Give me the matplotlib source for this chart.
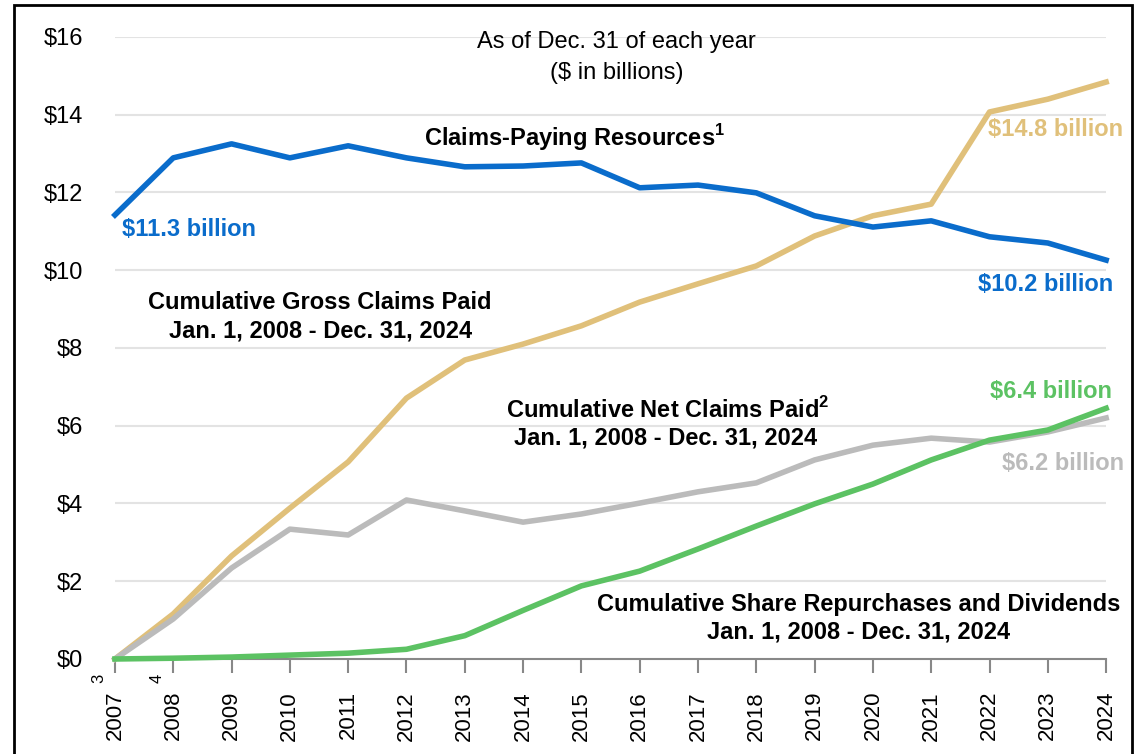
import numpy as np
import matplotlib.pyplot as plt
import matplotlib.transforms as mtransforms
from matplotlib.patches import Rectangle

plt.rcParams['font.family'] = ['Liberation Sans', 'DejaVu Sans']
plt.rcParams['mathtext.fontset'] = 'custom'
plt.rcParams['mathtext.rm'] = 'Liberation Sans'
plt.rcParams['mathtext.bf'] = 'Liberation Sans:bold'

years = np.arange(2007, 2025)
year_labels = [str(y) for y in years]
year_notes = {2007: '3', 2008: '4'}

claims_paying = [11.42, 12.89, 13.25, 12.89, 13.2, 12.89, 12.66, 12.68, 12.76, 12.12,
                 12.19, 11.99, 11.4, 11.11, 11.27, 10.86, 10.7, 10.26]
gross_claims = [0.0, 1.16, 2.65, 3.88, 5.07, 6.71, 7.69, 8.1, 8.57, 9.18,
                9.65, 10.11, 10.88, 11.4, 11.7, 14.07, 14.4, 14.84]
net_claims = [0.0, 1.03, 2.34, 3.34, 3.19, 4.09, 3.81, 3.52, 3.73, 4.01,
              4.3, 4.53, 5.12, 5.5, 5.68, 5.58, 5.84, 6.2]
repurchases = [0.0, 0.02, 0.05, 0.1, 0.15, 0.25, 0.6, 1.25, 1.88, 2.26,
               2.83, 3.42, 3.99, 4.5, 5.12, 5.63, 5.89, 6.45]

blue = '#0A6CCB'
gold = '#E0C07A'
gray = '#BBBBBB'
green = '#5CC263'

fig = plt.figure(figsize=(11.38, 7.54), dpi=100)
ax = fig.add_axes([0.101, 0.126, 0.871, 0.825])

for y in range(2, 17, 2):
    ax.axhline(y, color='#E3E3E3', lw=1.5, zorder=0)

lw = 4
ax.plot(years, gross_claims, color=gold, lw=lw, clip_on=False, zorder=3)
ax.plot(years, net_claims, color=gray, lw=lw, clip_on=False, zorder=3)
ax.plot(years, repurchases, color=green, lw=lw, clip_on=False, zorder=4)
ax.plot(years, claims_paying, color=blue, lw=lw, clip_on=False, zorder=4)

ax.set_xlim(2007, 2024)
ax.set_ylim(0, 16)
ax.set_yticks(range(0, 17, 2))
ax.set_yticklabels(['$%d' % v for v in range(0, 17, 2)], fontsize=17)
ax.set_xticks(years)
ax.set_xticklabels(year_labels, rotation=90, fontsize=16)
ax.tick_params(axis='y', length=0, pad=23)
ax.tick_params(axis='x', length=10, width=1.5, color='#888888', pad=13)
for s in ['top', 'right', 'left']:
    ax.spines[s].set_visible(False)
ax.spines['bottom'].set_color('#888888')
ax.spines['bottom'].set_linewidth(1.5)

# footnote marks on the first two year labels
trans = mtransforms.blended_transform_factory(ax.transData, ax.transAxes)
for yr, note in year_notes.items():
    ax.text(yr - 0.28, -0.031, note, transform=trans, rotation=90, ha='center', va='center', fontsize=12)

fs = 17
ax.text(2015.6, 15.87, 'As of Dec. 31 of each year', ha='center', va='center', fontsize=fs)
ax.text(2015.6, 15.08, '($ in billions)', ha='center', va='center', fontsize=fs)
ax.text(2014.89, 13.4, r'Claims-Paying Resources$^{\mathbf{1}}$', ha='center', va='center',
        fontsize=fs, fontweight='bold')
ax.text(2007.12, 11.04, '$11.3 billion', color=blue, ha='left', va='center', fontsize=fs, fontweight='bold')
ax.text(2021.98, 13.61, '$14.8 billion', color=gold, ha='left', va='center', fontsize=fs, fontweight='bold')
ax.text(2021.8, 9.62, '$10.2 billion', color=blue, ha='left', va='center', fontsize=fs, fontweight='bold')
ax.text(2010.52, 9.18, 'Cumulative Gross Claims Paid', ha='center', va='center', fontsize=fs, fontweight='bold')
ax.text(2010.52, 8.44, 'Jan. 1, 2008 - Dec. 31, 2024', ha='center', va='center', fontsize=fs, fontweight='bold')
ax.text(2016.48, 6.4, r'Cumulative Net Claims Paid$^{\mathbf{2}}$', ha='center', va='center',
        fontsize=fs, fontweight='bold')
ax.text(2016.44, 5.68, 'Jan. 1, 2008 - Dec. 31, 2024', ha='center', va='center', fontsize=fs, fontweight='bold')
ax.text(2022.01, 6.87, '$6.4 billion', color=green, ha='left', va='center', fontsize=fs, fontweight='bold')
ax.text(2022.22, 5.04, '$6.2 billion', color=gray, ha='left', va='center', fontsize=fs, fontweight='bold')
ax.text(2019.75, 1.39, 'Cumulative Share Repurchases and Dividends', ha='center', va='center',
        fontsize=fs, fontweight='bold')
ax.text(2019.75, 0.69, 'Jan. 1, 2008 - Dec. 31, 2024', ha='center', va='center', fontsize=fs, fontweight='bold')

fig.patches.append(Rectangle((14 / 1138, -0.02), (1132 - 14) / 1138, 0.02 + 1 - 5 / 754,
                             transform=fig.transFigure, fill=False, edgecolor='black', lw=2))

fig.savefig('out.png', dpi=100)
